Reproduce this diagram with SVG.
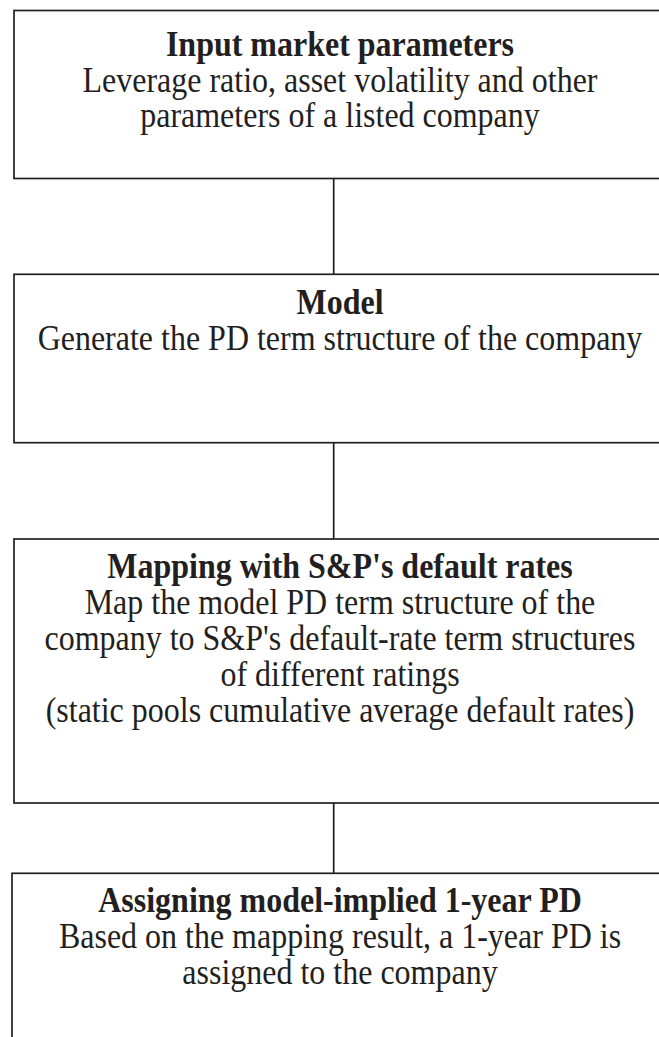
<svg xmlns="http://www.w3.org/2000/svg" width="659" height="1037" viewBox="0 0 659 1037">
<style>
.box{fill:#fff;stroke:#231f20;stroke-width:1.7}
.con{fill:none;stroke:#231f20;stroke-width:1.7}
text{font-family:"Liberation Serif","Times New Roman",serif;font-size:35px;fill:#231f20;text-anchor:middle}
.t{font-weight:bold}
</style>
<rect width="659" height="1037" fill="#fff"/>
<g id="connectors">
<line class="con" x1="333.7" y1="178.5" x2="333.7" y2="274.3"/>
<line class="con" x1="333.7" y1="442.7" x2="333.7" y2="539"/>
<line class="con" x1="333.7" y1="803" x2="333.7" y2="873.3"/>
</g>
<g id="node1">
<rect class="box" x="14" y="10.5" width="660" height="168"/>
<text class="t" transform="translate(340 56) scale(0.914 1)">Input market parameters</text>
<text transform="translate(340 92) scale(0.914 1)">Leverage ratio, asset volatility and other</text>
<text transform="translate(340 127) scale(0.914 1)">parameters of a listed company</text>
</g>
<g id="node2">
<rect class="box" x="14" y="274.3" width="660" height="168.4"/>
<text class="t" transform="translate(340 314) scale(0.914 1)">Model</text>
<text transform="translate(340 350) scale(0.914 1)">Generate the PD term structure of the company</text>
</g>
<g id="node3">
<rect class="box" x="14" y="539" width="660" height="264"/>
<text class="t" transform="translate(340 578) scale(0.914 1)">Mapping with S&amp;P's default rates</text>
<text transform="translate(340 614) scale(0.914 1)">Map the model PD term structure of the</text>
<text transform="translate(340 650) scale(0.914 1)">company to S&amp;P's default-rate term structures</text>
<text transform="translate(340 686) scale(0.914 1)">of different ratings</text>
<text transform="translate(340 722) scale(0.914 1)">(static pools cumulative average default rates)</text>
</g>
<g id="node4">
<rect class="box" x="12" y="873.3" width="660" height="200"/>
<text class="t" transform="translate(340 912) scale(0.914 1)">Assigning model-implied 1-year PD</text>
<text transform="translate(340 948) scale(0.914 1)">Based on the mapping result, a 1-year PD is</text>
<text transform="translate(340 984) scale(0.914 1)">assigned to the company</text>
</g>
</svg>
